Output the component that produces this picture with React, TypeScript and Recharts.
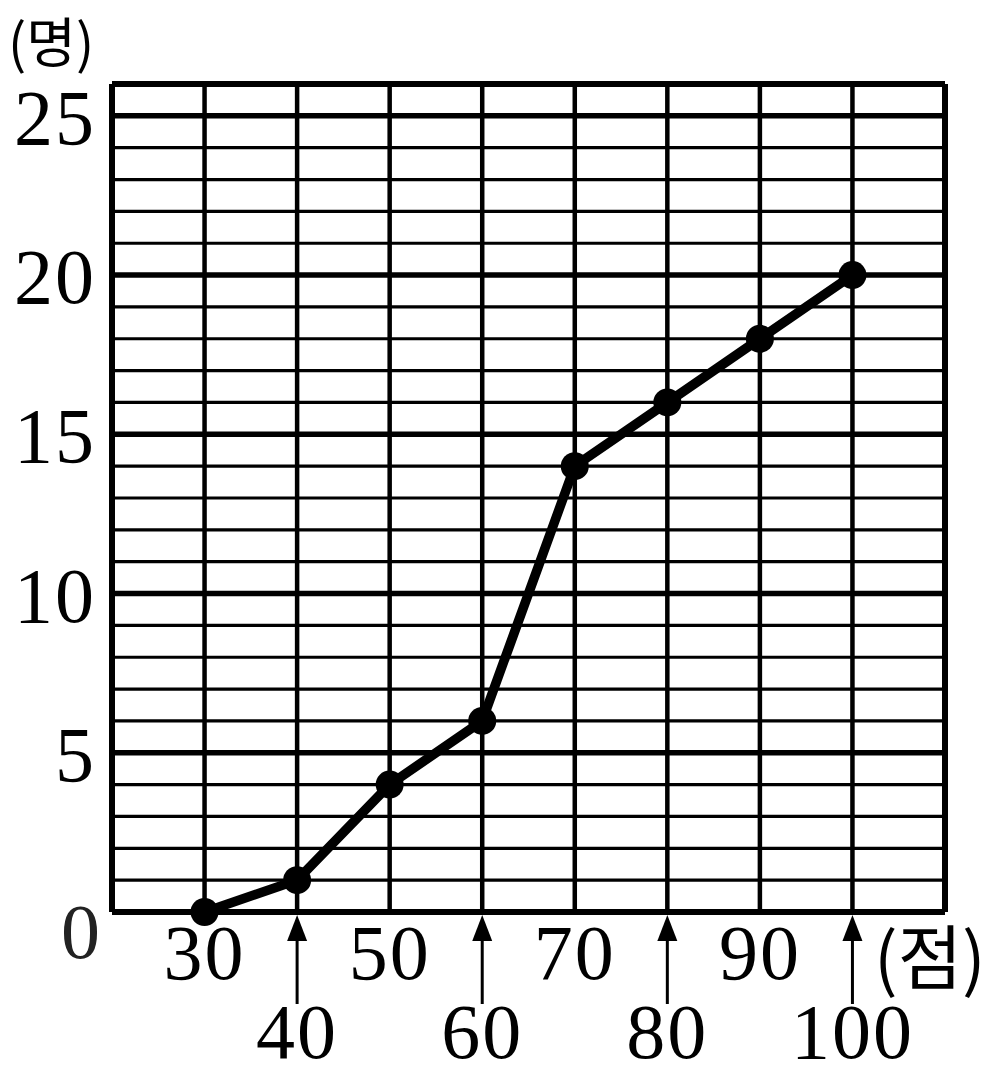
import React from 'react';
import { LineChart, Line, XAxis, YAxis, ReferenceLine } from 'recharts';

const scores = [30, 40, 50, 60, 70, 80, 90, 100];
const counts = [0, 1, 4, 6, 14, 16, 18, 20];
const yTicks = [0, 5, 10, 15, 20, 25];
const minorRows = [1, 2, 3, 4, 6, 7, 8, 9, 11, 12, 13, 14, 16, 17, 18, 19, 21, 22, 23, 24];
const majorRows = [5, 10, 15, 20, 25];
const xUnit = '(점)';
const yUnit = '(명)';

const data = scores.map((s, i) => ({ score: s, count: counts[i] }));

const NUM_FONT = '"Liberation Serif", "DejaVu Serif", serif';
const KR_FONT = '"Noto Sans CJK KR", "Noto Sans", sans-serif';

const XTick = (props: any) => {
    const { x, y, payload, index } = props;
    if (index % 2 === 0) {
        return (
            <text x={x} y={y + 67} textAnchor="middle" fontFamily={NUM_FONT} fontSize={78} letterSpacing={2} fill="#000">
                {payload.value}
            </text>
        );
    }
    return (
        <g>
            <line x1={x} y1={y + 20} x2={x} y2={y + 92} stroke="#000" strokeWidth={3} />
            <polygon points={`${x},${y + 3} ${x - 10},${y + 29} ${x + 10},${y + 29}`} fill="#000" />
            <text x={x} y={y + 146} textAnchor="middle" fontFamily={NUM_FONT} fontSize={78} letterSpacing={2} fill="#000">
                {payload.value}
            </text>
        </g>
    );
};

const YTick = (props: any) => {
    const { x, y, payload } = props;
    if (payload.value === 0) {
        return (
            <text x={x - 12} y={y + 46} textAnchor="end" fontFamily={NUM_FONT} fontSize={78} fill="#222">
                0
            </text>
        );
    }
    return (
        <text x={x - 16} y={y + 28} textAnchor="end" fontFamily={NUM_FONT} fontSize={78} letterSpacing={2} fill="#000">
            {payload.value}
        </text>
    );
};

const App: React.FC = () => {
    return (
        <div style={{ position: 'absolute', left: 0, top: 0, width: 993, height: 1081, background: '#fff' }}>
            <LineChart width={993} height={1081} data={data} margin={{ top: 84, right: 48, left: 0, bottom: 0 }}>
                {minorRows.map((v) => (
                    <ReferenceLine key={'m' + v} y={v} stroke="#000" strokeWidth={3.2} />
                ))}
                {majorRows.map((v) => (
                    <ReferenceLine key={'M' + v} y={v} stroke="#000" strokeWidth={5.5} />
                ))}
                {scores.map((v) => (
                    <ReferenceLine key={'v' + v} x={v} stroke="#000" strokeWidth={4.5} />
                ))}
                <ReferenceLine x={20} stroke="#000" strokeWidth={6} />
                <ReferenceLine x={110} stroke="#000" strokeWidth={6} />
                <ReferenceLine y={0} stroke="#000" strokeWidth={6} />
                <ReferenceLine y={26} stroke="#000" strokeWidth={6} />
                <XAxis
                    dataKey="score"
                    type="number"
                    domain={[20, 110]}
                    ticks={scores}
                    interval={0}
                    height={169}
                    axisLine={false}
                    tickLine={false}
                    tickSize={0}
                    tickMargin={0}
                    tick={<XTick />}
                    label={{
                        content: (p: any) => (
                            <text x={p.viewBox.x + 762} y={p.viewBox.y + 72} fontFamily={KR_FONT} fontSize={70} fill="#000">
                                {xUnit}
                            </text>
                        ),
                    }}
                />
                <YAxis
                    type="number"
                    domain={[0, 26]}
                    ticks={yTicks}
                    interval={0}
                    width={112}
                    axisLine={false}
                    tickLine={false}
                    tickSize={0}
                    tickMargin={0}
                    tick={<YTick />}
                    label={{
                        content: (p: any) => (
                            <text x={8} y={p.viewBox.y - 21} fontFamily={KR_FONT} fontSize={54} fill="#000">
                                {yUnit}
                            </text>
                        ),
                    }}
                />
                <Line
                    type="linear"
                    dataKey="count"
                    stroke="#000"
                    strokeWidth={9.5}
                    dot={{ r: 14, fill: '#000', stroke: '#000', strokeWidth: 0 }}
                    activeDot={false}
                    isAnimationActive={false}
                />
            </LineChart>
        </div>
    );
};

export default App;
